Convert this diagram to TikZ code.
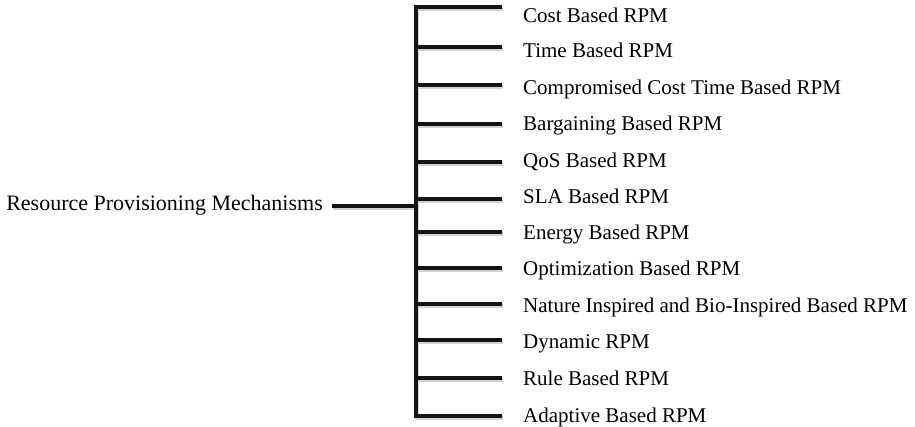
\documentclass[tikz,border=0pt]{standalone}
\usepackage{fontspec}
\setmainfont{Liberation Serif}
\usepackage{tikz}

\tikzset{
  bar/.style={line width=4.6pt, black!92},
  barshade/.style={line width=4.6pt, black!18, transform canvas={shift={(0.8pt,-1.6pt)}}},
  lbl/.style={inner sep=0pt, text height=15pt, text depth=0pt, font=\fontsize{21}{25}\selectfont},
  rootlbl/.style={lbl, font=\fontsize{22}{26}\selectfont}
}

\begin{document}
\begin{tikzpicture}[x=1pt, y=-1pt]
    \useasboundingbox (0, 0) rectangle (915, 427);
    \begin{scope}
      \node[rootlbl, anchor=east] (root) at (323, 203) {Resource Provisioning Mechanisms};
      \coordinate (hub) at (416, 206);
      \coordinate (rootend) at ([xshift=9pt]root.east);
      \foreach \ly/\ty/\txt [count=\i] in {
          7/15/Cost Based RPM,
          47/50/Time Based RPM,
          85/87/Compromised Cost Time Based RPM,
          124/123/Bargaining Based RPM,
          162/160/QoS Based RPM,
          199/196/SLA Based RPM,
          232/232/Energy Based RPM,
          268/268/Optimization Based RPM,
          304/305/Nature Inspired and Bio-Inspired Based RPM,
          340/341/Dynamic RPM,
          378/378/Rule Based RPM,
          416/415/Adaptive Based RPM} {
        \coordinate (b\i) at (416, \ly);
        \coordinate (e\i) at (502, \ly);
        \node[lbl, anchor=west] (item\i) at (523, \ty) {\txt};
      }
      % shadow
      \draw[barshade] (rootend |- hub) -- (hub);
      \draw[barshade] (e1) -- (b1) -- (b12) -- (e12);
      \foreach \i in {2,...,11}
        \draw[barshade] (b\i) -- (e\i);
      % tree
      \draw[bar] (rootend |- hub) -- (hub);
      \draw[bar] (e1) -- (b1) -- (b12) -- (e12);
      \foreach \i in {2,...,11}
        \draw[bar] (b\i) -- (e\i);
    \end{scope}
\end{tikzpicture}
\end{document}
